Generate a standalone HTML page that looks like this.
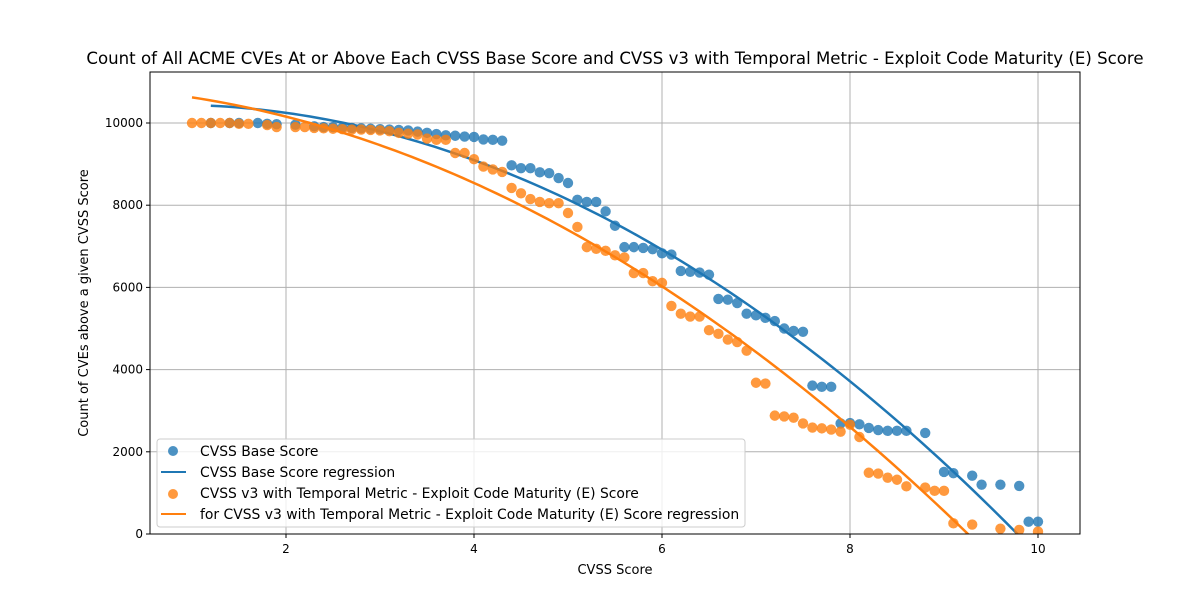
<!DOCTYPE html>
<html><head><meta charset="utf-8">
<style>
html,body{margin:0;padding:0;background:#fff;}
svg{display:block;font-family:"DejaVu Sans","Liberation Sans",sans-serif;}
</style></head>
<body>
<svg id="chart" width="1200" height="600" viewBox="0 0 1200 600">
<rect width="1200" height="600" fill="#fff"/>
<text x="615" y="64" font-size="16.6" text-anchor="middle" fill="#000">Count of All ACME CVEs At or Above Each CVSS Base Score and CVSS v3 with Temporal Metric - Exploit Code Maturity (E) Score</text>
<g id="grid"></g>
<g id="series" clip-path="url(#clip)"></g>
<defs><clipPath id="clip"><rect x="150" y="72" width="930" height="462"/></clipPath></defs>
<rect x="150" y="72" width="930" height="462" fill="none" stroke="#000" stroke-width="1"/>
<g id="ticks"></g>
<text x="615" y="574" font-size="13" text-anchor="middle">CVSS Score</text>
<text transform="translate(88,303) rotate(-90)" font-size="13" text-anchor="middle">Count of CVEs above a given CVSS Score</text>
<g>
<rect x="157" y="439" width="588" height="88" rx="3" fill="#fff" fill-opacity="0.8" stroke="#ccc"/>
<circle cx="173" cy="451" r="5" fill="#1f77b4" fill-opacity="0.8"/>
<text x="200" y="456" font-size="13.9">CVSS Base Score</text>
<line x1="161" y1="472" x2="186" y2="472" stroke="#1f77b4" stroke-width="2"/>
<text x="200" y="477" font-size="13.9">CVSS Base Score regression</text>
<circle cx="173" cy="494" r="5" fill="#ff7f0e" fill-opacity="0.8"/>
<text x="200" y="498" font-size="13.9">CVSS v3 with Temporal Metric - Exploit Code Maturity (E) Score</text>
<line x1="161" y1="514" x2="186" y2="514" stroke="#ff7f0e" stroke-width="2"/>
<text x="200" y="519" font-size="13.9">for CVSS v3 with Temporal Metric - Exploit Code Maturity (E) Score regression</text>
</g>
</svg>
<script>
const xTicks = [2,4,6,8,10];
const yTicks = [0,2000,4000,6000,8000,10000];
const baseX = [1.2,1.4,1.5,1.7,1.8,1.9,2.1,2.3,2.4,2.5,2.6,2.7,2.8,2.9,3.0,3.1,3.2,3.3,3.4,3.5,3.6,3.7,3.8,3.9,4.0,4.1,4.2,4.3,4.4,4.5,4.6,4.7,4.8,4.9,5.0,5.1,5.2,5.3,5.4,5.5,5.6,5.7,5.8,5.9,6.0,6.1,6.2,6.3,6.4,6.5,6.6,6.7,6.8,6.9,7.0,7.1,7.2,7.3,7.4,7.5,7.6,7.7,7.8,7.9,8.0,8.1,8.2,8.3,8.4,8.5,8.6,8.8,9.0,9.1,9.3,9.4,9.6,9.8,9.9,10.0];
const baseY = [10000,10000,10000,10000,9980,9970,9960,9920,9900,9900,9890,9880,9870,9860,9850,9840,9830,9820,9790,9760,9730,9700,9690,9670,9660,9600,9590,9570,8970,8900,8900,8800,8780,8660,8540,8130,8080,8080,7850,7500,6980,6980,6960,6930,6830,6800,6400,6380,6360,6310,5720,5700,5620,5360,5320,5260,5180,5000,4940,4920,3610,3580,3580,2690,2700,2670,2580,2530,2510,2510,2510,2460,1510,1480,1420,1200,1200,1170,300,300];
const tempX = [1.0,1.1,1.2,1.3,1.4,1.5,1.6,1.8,1.9,2.1,2.2,2.3,2.4,2.5,2.6,2.7,2.8,2.9,3.0,3.1,3.2,3.3,3.4,3.5,3.6,3.7,3.8,3.9,4.0,4.1,4.2,4.3,4.4,4.5,4.6,4.7,4.8,4.9,5.0,5.1,5.2,5.3,5.4,5.5,5.6,5.7,5.8,5.9,6.0,6.1,6.2,6.3,6.4,6.5,6.6,6.7,6.8,6.9,7.0,7.1,7.2,7.3,7.4,7.5,7.6,7.7,7.8,7.9,8.0,8.1,8.2,8.3,8.4,8.5,8.6,8.8,8.9,9.0,9.1,9.3,9.6,9.8,10.0];
const tempY = [10000,10000,10000,10000,10000,9980,9980,9950,9900,9900,9900,9880,9870,9860,9850,9840,9840,9830,9820,9800,9760,9740,9720,9620,9590,9590,9270,9270,9120,8940,8870,8810,8420,8290,8150,8080,8050,8050,7810,7470,6980,6940,6890,6780,6730,6350,6350,6150,6110,5550,5360,5290,5290,4960,4870,4730,4670,4460,3680,3660,2880,2860,2830,2690,2590,2570,2540,2490,2660,2360,1490,1470,1370,1320,1160,1130,1050,1050,260,230,130,100,60];

const NS='http://www.w3.org/2000/svg';
function X(v){return 98 + v*94;}
function Y(v){return 534 - v*0.0411;}
function mk(tag, attrs, parent){const e=document.createElementNS(NS,tag);for(const k in attrs)e.setAttribute(k,attrs[k]);parent.appendChild(e);return e;}
const grid=document.getElementById('grid'), ticks=document.getElementById('ticks'), series=document.getElementById('series');
xTicks.forEach(t=>{
  const g=mk('line',{x1:X(t),x2:X(t),y1:72,y2:534,stroke:'#b0b0b0','stroke-width':1},grid);
  
  
  const tk=mk('line',{x1:X(t),x2:X(t),y1:534,y2:538,stroke:'#000'},ticks);
  
  
  const tx=mk('text',{x:X(t),y:553,'font-size':12,'text-anchor':'middle'},ticks);
  tx.textContent=t;
  
  
});
yTicks.forEach(t=>{
  const g=mk('line',{x1:150,x2:1080,y1:Y(t),y2:Y(t),stroke:'#b0b0b0','stroke-width':1},grid);
  
  
  const tk=mk('line',{x1:146,x2:150,y1:Y(t),y2:Y(t),stroke:'#000'},ticks);
  
  
  const tx=mk('text',{x:143,y:Y(t)+4,'font-size':12,'text-anchor':'end'},ticks);
  tx.textContent=t;
  
  
});
function polyfit2(xs,ys){
  let S=[0,0,0,0,0],T=[0,0,0];
  for(let i=0;i<xs.length;i++){let p=1;for(let k=0;k<5;k++){S[k]+=p;if(k<3)T[k]+=ys[i]*p;p*=xs[i];}}
  const A=[[S[0],S[1],S[2],T[0]],[S[1],S[2],S[3],T[1]],[S[2],S[3],S[4],T[2]]];
  for(let i=0;i<3;i++){for(let j=i+1;j<3;j++){const f=A[j][i]/A[i][i];for(let k=i;k<4;k++)A[j][k]-=f*A[i][k];}}
  const c=[0,0,0];
  for(let i=2;i>=0;i--){let s=A[i][3];for(let k=i+1;k<3;k++)s-=A[i][k]*c[k];c[i]=s/A[i][i];}
  return c;
}
function drawSeries(xs,ys,color,name){
  xs.forEach((x,i)=>{
    const c=mk('circle',{cx:X(x),cy:Y(ys[i]),r:5.2,fill:color,'fill-opacity':0.8},series);
    
    
  });
}
function drawReg(xs,ys,color,name){
  const c=polyfit2(xs,ys);
  const x0=Math.min(...xs), x1=Math.max(...xs);
  let d='';
  for(let i=0;i<=100;i++){const x=x0+(x1-x0)*i/100;const y=c[0]+c[1]*x+c[2]*x*x;d+=(i?'L':'M')+X(x).toFixed(2)+','+Y(y).toFixed(2);}
  const p=mk('path',{d:d,fill:'none',stroke:color,'stroke-width':2.5},series);
  
  
}
drawSeries(baseX,baseY,'#1f77b4','base-score');
drawReg(baseX,baseY,'#1f77b4','base-score');
drawSeries(tempX,tempY,'#ff7f0e','temporal-score');
drawReg(tempX,tempY,'#ff7f0e','temporal-score');
</script>
</body></html>
